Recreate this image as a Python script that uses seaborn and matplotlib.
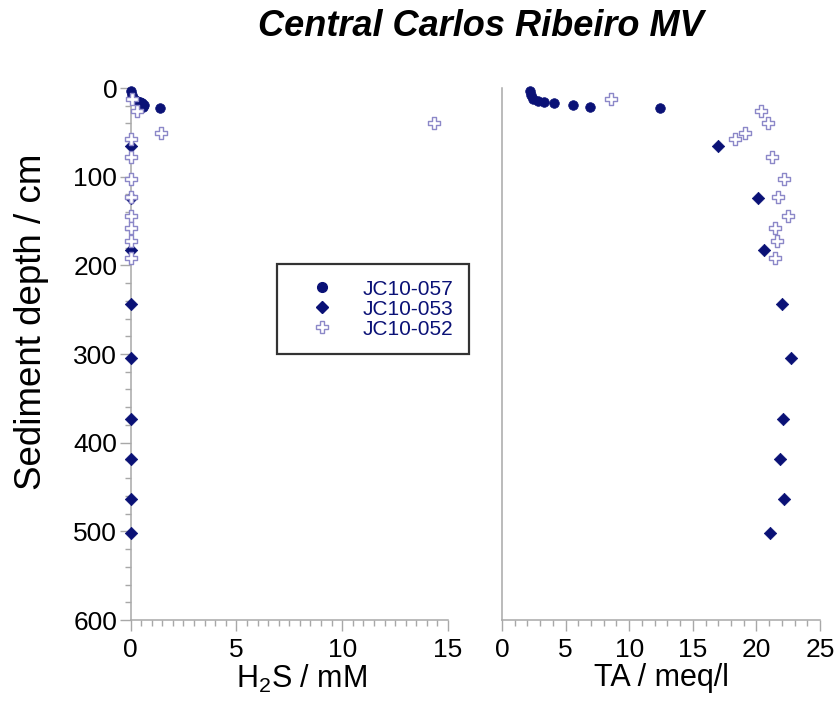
import matplotlib
matplotlib.use("Agg")
import matplotlib.pyplot as plt
from matplotlib.ticker import MultipleLocator
from matplotlib.lines import Line2D
import seaborn as sns
import pandas as pd

# Core JC10-057
d057 = [3, 8, 12, 15, 16, 17, 19, 21, 23]
h2s057 = [0.02, 0.05, 0.15, 0.3, 0.45, 0.55, 0.65, 0.6, 1.4]
ta057 = [2.2, 2.25, 2.45, 2.85, 3.3, 4.1, 5.6, 6.9, 12.4]

# Core JC10-053
d053 = [65, 124, 183, 244, 304, 373, 418, 463, 502]
h2s053 = [0, 0, 0, 0, 0, 0, 0, 0, 0]
ta053 = [17.0, 20.1, 20.6, 22.0, 22.7, 22.1, 21.85, 22.2, 21.1]

# Core JC10-052
d052 = [12, 26, 40, 51, 58, 78, 103, 123, 144, 158, 173, 192]
h2s052 = [0.07, 0.3, 14.35, 1.45, 0, 0, 0, 0, 0, 0, 0, 0]
ta052 = [8.6, 20.4, 20.9, 19.1, 18.3, 21.2, 22.2, 21.7, 22.5, 21.5, 21.6, 21.5]

labels = ["JC10-057", "JC10-053", "JC10-052"]

NAVY = "#0a1176"
LILAC = "#8c88c8"
GREY = "#a8a8a8"

sns.set_style("ticks")
plt.rcParams["font.family"] = ["Liberation Sans", "DejaVu Sans"]
plt.rcParams["mathtext.fontset"] = "custom"
plt.rcParams["mathtext.rm"] = "Liberation Sans"
plt.rcParams["text.color"] = "black"
plt.rcParams["axes.labelcolor"] = "black"

W, H = 834, 722
fig = plt.figure(figsize=(W / 100, H / 100), dpi=100)


def box(x0, x1, ytop, ybot):
    return [x0 / W, 1 - ybot / H, (x1 - x0) / W, (ybot - ytop) / H]


ax1 = fig.add_axes(box(130.5, 448, 88, 620))
ax2 = fig.add_axes(box(502, 820, 88, 620))

df057 = pd.DataFrame({"depth": d057, "h2s": h2s057, "ta": ta057})
df053 = pd.DataFrame({"depth": d053, "h2s": h2s053, "ta": ta053})
df052 = pd.DataFrame({"depth": d052, "h2s": h2s052, "ta": ta052})

styles = [
    (df057, dict(marker="o", s=48, color=NAVY, edgecolor=NAVY, linewidth=0.5)),
    (df053, dict(marker="D", s=40, color=NAVY, edgecolor=NAVY, linewidth=0.5)),
    (df052, dict(marker="P", s=85, color="white", edgecolor=LILAC, linewidth=1.0)),
]

for ax, xcol in ((ax1, "h2s"), (ax2, "ta")):
    for df, kw in styles:
        sns.scatterplot(data=df, x=xcol, y="depth", ax=ax, clip_on=False,
                        zorder=3, legend=False, **kw)

for ax in (ax1, ax2):
    ax.set_ylim(600, 0)
    for side in ("top", "right"):
        ax.spines[side].set_visible(False)
    for side in ("left", "bottom"):
        ax.spines[side].set_color(GREY)
        ax.spines[side].set_linewidth(1.1)
    ax.tick_params(which="both", direction="out", color=GREY, width=1.0,
                   labelsize=19, labelcolor="black")
    ax.tick_params(which="major", length=8)
    ax.tick_params(which="minor", length=4.3)
    ax.tick_params(axis="x", pad=5)
    ax.tick_params(axis="y", pad=1.5)

ax1.set_xlim(0, 15)
ax1.xaxis.set_major_locator(MultipleLocator(5))
ax1.xaxis.set_minor_locator(MultipleLocator(0.5))
ax1.yaxis.set_major_locator(MultipleLocator(100))
ax1.yaxis.set_minor_locator(MultipleLocator(20))

ax2.set_xlim(0, 25)
ax2.xaxis.set_major_locator(MultipleLocator(5))
ax2.xaxis.set_minor_locator(MultipleLocator(1))
ax2.yaxis.set_major_locator(MultipleLocator(100))
ax2.tick_params(axis="y", which="both", left=False, labelleft=False)

ax1.set_xlabel("H$_2$S / mM", fontsize=22)
ax1.xaxis.set_label_coords(0.54, -0.08)
ax2.set_xlabel("TA / meq/l", fontsize=22)
ax2.xaxis.set_label_coords(0.5, -0.08)
ax2.set_ylabel("")
ax1.set_ylabel("Sediment depth / cm", fontsize=26.5)
ax1.yaxis.set_label_coords(-0.258, 0.56)

fig.text(481 / W, 1 - 26 / H, "Central Carlos Ribeiro MV", ha="center",
         va="center", fontsize=26, fontweight="bold", fontstyle="italic")

handles = [
    Line2D([], [], linestyle="none", marker="o", markersize=7,
           color=NAVY, markeredgecolor=NAVY),
    Line2D([], [], linestyle="none", marker="D", markersize=6.5,
           color=NAVY, markeredgecolor=NAVY),
    Line2D([], [], linestyle="none", marker="P", markersize=9,
           markerfacecolor="white", markeredgecolor=LILAC, markeredgewidth=1.0),
]
leg = fig.legend(handles, labels, loc="upper left",
                 bbox_to_anchor=(277 / W, 1 - 264 / H), borderaxespad=0,
                 fontsize=15, frameon=True, fancybox=False, borderpad=0.75,
                 handlelength=2.85, handletextpad=0.5, labelspacing=0.05,
                 labelcolor=NAVY)
leg.get_frame().set_edgecolor("black")
leg.get_frame().set_linewidth(1.6)

fig.savefig("out.png", dpi=100)
